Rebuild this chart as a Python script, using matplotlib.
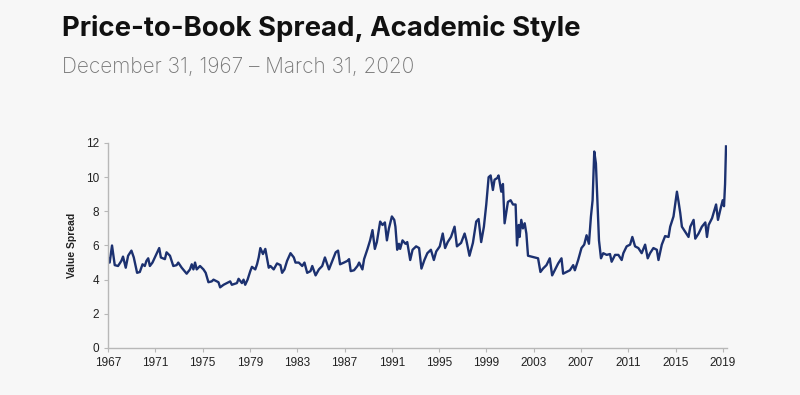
import matplotlib
matplotlib.use("Agg")
import matplotlib.pyplot as plt
import numpy as np

title = "Price-to-Book Spread, Academic Style"
subtitle = "December 31, 1967 \u2013 March 31, 2020"
ylabel = "Value Spread"
xtick_years = list(range(1967, 2020, 4))
yticks = [0, 2, 4, 6, 8, 10, 12]

# fractional position on the time axis (1967 = first month, Dec 1967)
years = [
    1967.00, 1967.14, 1967.34, 1967.57, 1967.85, 1968.13, 1968.27, 1968.50, 1968.70, 1968.98,
    1969.18, 1969.46, 1969.69, 1969.92, 1970.11, 1970.25, 1970.40, 1970.54, 1970.76, 1970.96,
    1971.16, 1971.33, 1971.47, 1971.81, 1971.95, 1972.24, 1972.52, 1972.80, 1972.94, 1973.23,
    1973.65, 1973.93, 1974.08, 1974.22, 1974.36, 1974.50, 1974.78, 1975.07, 1975.26, 1975.49,
    1975.77, 1975.92, 1976.20, 1976.34, 1976.48, 1976.77, 1977.05, 1977.33, 1977.47, 1977.90,
    1978.04, 1978.32, 1978.46, 1978.60, 1978.80, 1979.03, 1979.17, 1979.45, 1979.60, 1979.74,
    1979.88, 1980.10, 1980.30, 1980.59, 1980.73, 1981.01, 1981.29, 1981.58, 1981.72, 1981.92,
    1982.14, 1982.43, 1982.71, 1982.85, 1983.13, 1983.42, 1983.61, 1983.84, 1984.12, 1984.27,
    1984.55, 1984.83, 1985.11, 1985.34, 1985.68, 1985.96, 1986.25, 1986.45, 1986.62, 1986.95,
    1987.24, 1987.38, 1987.52, 1987.80, 1988.09, 1988.23, 1988.51, 1988.65, 1988.94, 1989.16,
    1989.36, 1989.56, 1989.73, 1990.01, 1990.21, 1990.41, 1990.58, 1990.75, 1991.00, 1991.20,
    1991.30, 1991.45, 1991.60, 1991.70, 1991.90, 1992.15, 1992.30, 1992.55, 1992.75, 1993.05,
    1993.30, 1993.50, 1993.75, 1994.00, 1994.30, 1994.55, 1994.75, 1995.05, 1995.30, 1995.50,
    1995.72, 1996.00, 1996.30, 1996.50, 1996.85, 1997.15, 1997.30, 1997.56, 1997.85, 1998.13,
    1998.33, 1998.55, 1998.78, 1998.98, 1999.18, 1999.35, 1999.54, 1999.68, 1999.91, 2000.02,
    2000.25, 2000.39, 2000.53, 2000.81, 2001.04, 2001.24, 2001.46, 2001.58, 2001.72, 2001.80,
    2001.94, 2002.08, 2002.23, 2002.37, 2002.51, 2002.79, 2003.08, 2003.36, 2003.56, 2003.78,
    2004.07, 2004.35, 2004.55, 2004.77, 2005.06, 2005.34, 2005.48, 2005.76, 2006.05, 2006.33,
    2006.47, 2006.75, 2007.03, 2007.26, 2007.46, 2007.66, 2007.83, 2007.97, 2008.11, 2008.25,
    2008.39, 2008.51, 2008.68, 2008.87, 2009.16, 2009.44, 2009.58, 2009.87, 2010.15, 2010.43,
    2010.57, 2010.85, 2011.14, 2011.33, 2011.56, 2011.84, 2012.12, 2012.41, 2012.63, 2012.83,
    2013.11, 2013.40, 2013.54, 2013.82, 2014.10, 2014.39, 2014.53, 2014.81, 2015.10, 2015.24,
    2015.38, 2015.52, 2015.80, 2016.08, 2016.23, 2016.51, 2016.65, 2016.93, 2017.21, 2017.50,
    2017.64, 2017.78, 2018.07, 2018.41, 2018.57, 2018.77, 2018.97, 2019.08, 2019.17, 2019.25,
]

spread = [
    5.30, 5.00, 6.00, 4.85, 4.80, 5.10, 5.35, 4.70, 5.40, 5.70,
    5.30, 4.40, 4.45, 4.90, 4.80, 5.10, 5.25, 4.80, 5.00, 5.30,
    5.60, 5.85, 5.30, 5.20, 5.60, 5.40, 4.80, 4.85, 5.00, 4.70,
    4.35, 4.60, 4.90, 4.60, 5.00, 4.60, 4.80, 4.60, 4.40, 3.85,
    3.90, 4.00, 3.90, 3.85, 3.55, 3.70, 3.80, 3.90, 3.70, 3.80,
    4.05, 3.80, 4.00, 3.70, 4.00, 4.50, 4.75, 4.60, 4.90, 5.30,
    5.85, 5.50, 5.80, 4.70, 4.80, 4.60, 4.95, 4.85, 4.40, 4.60,
    5.10, 5.55, 5.30, 5.00, 5.00, 4.80, 5.00, 4.40, 4.50, 4.80,
    4.25, 4.60, 4.80, 5.30, 4.60, 5.10, 5.60, 5.70, 4.90, 5.00,
    5.10, 5.20, 4.50, 4.55, 4.80, 5.00, 4.60, 5.20, 5.80, 6.30,
    6.90, 5.80, 6.20, 7.40, 7.20, 7.35, 6.30, 7.00, 7.70, 7.50,
    7.10, 5.75, 6.10, 5.80, 6.30, 6.10, 6.20, 5.15, 5.75, 5.95,
    5.85, 4.65, 5.15, 5.55, 5.75, 5.15, 5.65, 5.95, 6.70, 5.85,
    6.20, 6.50, 7.10, 5.95, 6.15, 6.70, 6.30, 5.40, 6.15, 7.40,
    7.55, 6.20, 7.10, 8.40, 10.00, 10.10, 9.25, 9.85, 9.95, 10.10,
    9.15, 9.60, 7.30, 8.55, 8.65, 8.40, 8.40, 6.00, 7.20, 6.50,
    7.50, 7.00, 7.30, 6.70, 5.40, 5.35, 5.30, 5.25, 4.45, 4.65,
    4.85, 5.25, 4.25, 4.55, 4.95, 5.25, 4.35, 4.45, 4.55, 4.85,
    4.55, 5.15, 5.85, 6.05, 6.60, 6.10, 7.70, 8.65, 11.50, 10.80,
    8.30, 6.30, 5.25, 5.55, 5.45, 5.50, 5.05, 5.45, 5.45, 5.15,
    5.55, 5.95, 6.05, 6.50, 5.95, 5.85, 5.55, 6.05, 5.25, 5.55,
    5.85, 5.75, 5.15, 6.05, 6.55, 6.50, 7.10, 7.70, 9.15, 8.55,
    7.90, 7.10, 6.80, 6.50, 7.10, 7.50, 6.40, 6.70, 7.10, 7.35,
    6.50, 7.20, 7.60, 8.40, 7.50, 8.10, 8.65, 8.30, 9.60, 11.80,
]

bg = "#f7f7f7"
fig = plt.figure(figsize=(8.0, 3.95), dpi=100, facecolor=bg)
ax = fig.add_axes([0.135, 0.119, 0.774, 0.519], facecolor=bg)

ax.plot(years, spread, color="#1c3170", linewidth=1.7, solid_joinstyle="round")

ax.set_xlim(1967, 2019.35)
ax.set_ylim(0, 12)
ax.set_xticks(xtick_years)
ax.set_xticklabels([str(y) for y in xtick_years])
ax.set_yticks(yticks)

for s in ["top", "right"]:
    ax.spines[s].set_visible(False)
for s in ["left", "bottom"]:
    ax.spines[s].set_color("#b8b8b8")
    ax.spines[s].set_linewidth(1.0)

ax.tick_params(axis="both", colors="#b8b8b8", labelcolor="#222222",
               labelsize=8.5, length=3, width=0.8)
for lab in ax.get_xticklabels() + ax.get_yticklabels():
    lab.set_family("Liberation Sans")

ax.set_ylabel(ylabel, fontsize=7.5, fontweight="bold", family="Liberation Sans",
              color="#222222", labelpad=6)

fig.text(0.0775, 0.908, title, fontsize=19.8, fontweight="bold", family="Inter",
         color="#111111", ha="left", va="baseline")
fig.text(0.0775, 0.815, subtitle, fontsize=15, fontweight="light", family="Inter",
         color="#777777", ha="left", va="baseline")

fig.savefig("out.png", dpi=100, facecolor=bg)
